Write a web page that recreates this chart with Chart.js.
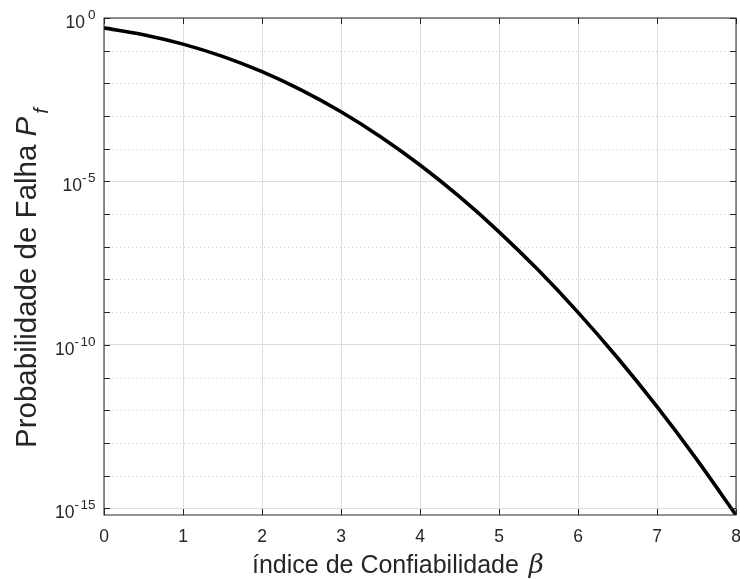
<!DOCTYPE html>
<html>
<head>
<meta charset="utf-8">
<script src="https://cdn.jsdelivr.net/npm/chart.js@4/dist/chart.umd.min.js"></script>
<style>
    html, body { margin: 0; padding: 0; background: #ffffff; }
    #wrap { width: 740px; height: 579px; position: relative; }
</style>
</head>
<body>
<div id="wrap"><canvas id="pfChart" width="740" height="579"></canvas></div>
<script>
// indice de confiabilidade (beta) e probabilidade de falha
const betaValues = [0, 0.5, 1, 1.5, 2, 2.5, 3, 3.5, 4, 4.5, 5, 5.5, 6, 6.5, 7, 7.5, 8];
const pfValues = [0.5, 0.3085, 0.1587, 0.0668, 0.0228, 0.00621, 0.00135, 2.33e-4, 3.17e-5,
    3.4e-6, 2.87e-7, 1.9e-8, 9.87e-10, 4.02e-11, 1.28e-12, 3.19e-14, 6.22e-16];
const xTicks = [0, 1, 2, 3, 4, 5, 6, 7, 8];
const yDecades = [0, -1, -2, -3, -4, -5, -6, -7, -8, -9, -10, -11, -12, -13, -14, -15];
const yLabelDecades = [0, -5, -10, -15];

const fontFamily = '"Liberation Sans", Arial, Helvetica, sans-serif';
const axisColor = '#262626';
const gridColor = '#dedede';
const minorGridColor = '#d2d2d2';
const tickLen = 6;

const axesPlugin = {
    id: 'matlabAxes',
    beforeDatasetsDraw(chart) {
        const { ctx, chartArea: area, scales } = chart;
        // grade secundaria pontilhada em cada decada
        ctx.save();
        ctx.strokeStyle = minorGridColor;
        ctx.lineWidth = 1;
        ctx.setLineDash([1, 3]);
        yDecades.forEach((exp) => {
            if (yLabelDecades.includes(exp)) {
                return;
            }
            const y = Math.round(scales.y.getPixelForValue(10 ** exp)) + 0.5;
            ctx.beginPath();
            ctx.moveTo(area.left, y);
            ctx.lineTo(area.right, y);
            ctx.stroke();
        });
        ctx.restore();
    },
    afterDraw(chart) {
        const { ctx, chartArea: area, scales } = chart;
        ctx.save();
        ctx.strokeStyle = axisColor;
        ctx.lineWidth = 1;
        ctx.strokeRect(area.left, area.top, area.right - area.left, area.bottom - area.top);

        ctx.beginPath();
        xTicks.forEach((value) => {
            const x = Math.round(scales.x.getPixelForValue(value)) + 0.5;
            ctx.moveTo(x, area.bottom);
            ctx.lineTo(x, area.bottom - tickLen);
            ctx.moveTo(x, area.top);
            ctx.lineTo(x, area.top + tickLen);
        });
        yDecades.forEach((exp) => {
            const y = Math.round(scales.y.getPixelForValue(10 ** exp)) + 0.5;
            ctx.moveTo(area.left, y);
            ctx.lineTo(area.left + tickLen, y);
            ctx.moveTo(area.right, y);
            ctx.lineTo(area.right - tickLen, y);
        });
        ctx.stroke();

        // rotulos do eixo y com expoente
        ctx.fillStyle = axisColor;
        ctx.textAlign = 'right';
        ctx.textBaseline = 'alphabetic';
        yLabelDecades.forEach((exp) => {
            const y = scales.y.getPixelForValue(10 ** exp);
            const digits = String(Math.abs(exp));
            ctx.font = `13.5px ${fontFamily}`;
            let right = 95.5;
            ctx.fillText(digits, right, y + 1);
            right -= ctx.measureText(digits).width;
            if (exp < 0) {
                right -= 1.5;
                ctx.fillText('-', right, y + 1);
                right -= ctx.measureText('-').width;
            } else {
                right -= 3;
            }
            ctx.font = `17.5px ${fontFamily}`;
            ctx.fillText('10', right, y + 10);
        });

        // titulo do eixo x
        ctx.textAlign = 'left';
        const xText = 'índice de Confiabilidade ';
        ctx.font = `25px ${fontFamily}`;
        ctx.fillText(xText, 252, 573);
        const xTextWidth = ctx.measureText(xText).width;
        ctx.font = `italic 26px "DejaVu Serif", "Liberation Serif", serif`;
        ctx.fillText('β', 252 + xTextWidth + 3, 573);

        // titulo do eixo y
        ctx.translate(36, 448);
        ctx.rotate(-Math.PI / 2);
        const yText = 'Probabilidade de Falha ';
        ctx.font = `29.5px ${fontFamily}`;
        ctx.fillText(yText, 0, 0);
        const pStart = ctx.measureText(yText).width;
        ctx.font = `italic 29.5px ${fontFamily}`;
        ctx.fillText('P', pStart, 0);
        const pWidth = ctx.measureText('P').width;
        ctx.font = `italic 20px ${fontFamily}`;
        ctx.fillText('f', pStart + pWidth + 3, 12);
        ctx.restore();
    },
};

const canvas = document.getElementById('pfChart');
new Chart(canvas.getContext('2d'), {
    type: 'line',
    data: {
        datasets: [
            {
                data: betaValues.map((beta, index) => ({ x: beta, y: pfValues[index] })),
                borderColor: '#000000',
                borderWidth: 3.6,
                pointRadius: 0,
                tension: 0.3,
                fill: false,
            },
        ],
    },
    options: {
        responsive: false,
        animation: false,
        maintainAspectRatio: false,
        layout: {
            padding: { top: 18, right: 4, left: 0, bottom: 0 },
        },
        plugins: {
            legend: { display: false },
            tooltip: { enabled: false },
        },
        scales: {
            x: {
                type: 'linear',
                min: 0,
                max: 8,
                afterBuildTicks(scale) {
                    scale.ticks = xTicks.map((value) => ({ value }));
                },
                afterFit(scale) {
                    scale.height = 64;
                    scale.paddingLeft = 0;
                    scale.paddingRight = 0;
                },
                border: { display: false },
                grid: {
                    color: gridColor,
                    drawTicks: false,
                },
                ticks: {
                    color: axisColor,
                    padding: 12,
                    maxRotation: 0,
                    font: { family: fontFamily, size: 17.5 },
                },
            },
            y: {
                type: 'logarithmic',
                min: 6.22e-16,
                max: 1,
                afterBuildTicks(scale) {
                    scale.ticks = yDecades.map((exp) => ({ value: 10 ** exp }));
                },
                afterFit(scale) {
                    scale.width = 104;
                    scale.paddingTop = 0;
                    scale.paddingBottom = 0;
                },
                border: { display: false },
                grid: {
                    drawTicks: false,
                    color(context) {
                        const exp = Math.round(Math.log10(context.tick?.value ?? 1));
                        return yLabelDecades.includes(exp) ? gridColor : 'rgba(0,0,0,0)';
                    },
                },
                ticks: {
                    display: false,
                },
            },
        },
    },
    plugins: [axesPlugin],
});
</script>
</body>
</html>
